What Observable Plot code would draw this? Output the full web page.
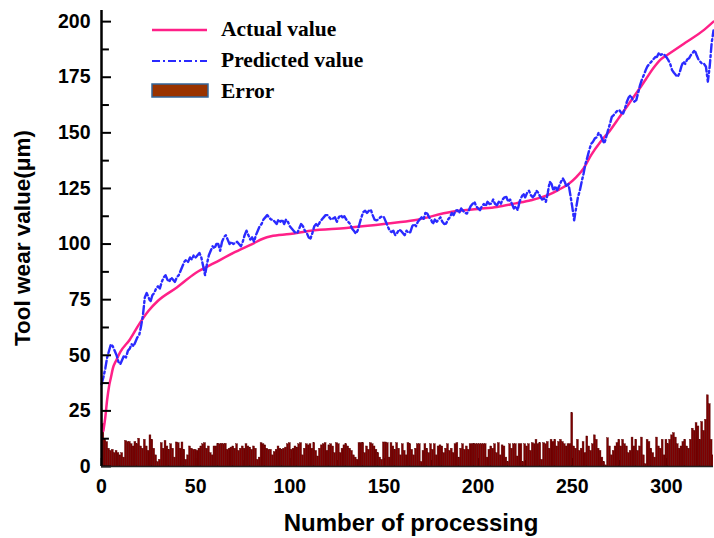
<!DOCTYPE html>
<html><head><meta charset="utf-8">
<script src="https://cdn.jsdelivr.net/npm/d3@7"></script>
<script src="https://cdn.jsdelivr.net/npm/@observablehq/plot@0.6"></script>
<style>
body{margin:0;background:#fff;}
#chart{position:relative;width:714px;height:538px;overflow:hidden;}
#chart svg{position:absolute;left:0;top:0;}
</style></head><body><div id="chart"></div>
<script>
// Actual value (smooth curve knots)
const actualX = [1,2,3,4,5,6,8,10,15,20,25,30,40,50,60,70,80,86,90,100,111,130,152,166,186,200,210,220,228,237,243,248,252,256,260,265,270,275,280,285,289,293,297,301,310,320,325];
const actualY = [16,22,30,36,40,44,48,51.5,57,64,70,74.5,80.5,87,91.5,96,100,102.5,103.5,104.5,106,107.2,109.2,110.7,114.5,115.8,116.7,118.3,119.7,122,124.5,127,130,134,140,146,151,157,163,169,174,179,183,185.3,190.5,196.3,200];

// Predicted value, n = 0..325
const predicted = [
37,40,44,49,52,55,54,52,50,47,
46,48,50,49,52,53,55,54,56,58,
59,63,68,76,78,76,74,77,78,80,
81,80,83,85,86,84,83,85,84,83,
85,86,88,90,92,93,92,94,93,95,
94,95,96,94,90,86,91,95,97,99,
98,100,100,97,101,103,104,102,100,101,
100,100.5,101,100,99,101,104,106,104,102,
103,101,104,106,108,109,111,112,113,112,
111,111,110,109,111,110,111,109,111,110,
108,107,106,105,105,107,109,108,106,105,
103,102.5,105,108,109,108,110,111,112,113,
113,112,111,111.5,112,110,112,113,112,112.5,
111,110,109,107,106,104.7,106,109,112,114.4,
115,114,115,115.5,113,111,110.7,111,112,112.5,
112,110,108,106,105.4,106,104,105,106.5,106,
105,104,106,105,105.4,108,109,108,110,111,
112,111,114,113.7,112,111,109,111,110,111,
112,110,109,109.2,111,112,114,113,115,115.2,
114,116,115,114,113.7,115,117,118,119,117,
116,115.2,117,118,117,119,118,118.2,120,118,
117.5,119,118,120,121,121.2,119,120,118,116,
117,115.2,119,121,122.7,121,123,124,122,121,
122,124,123,121.2,120,120.5,119,123,128,127,
124,126,124.2,126,128,129.5,128,125.7,127,122,
116.7,110.7,116,121,124,128,131.7,136,139,142.2,
145,146,147.5,148,150,149,147,145.2,148,151.2,
154,157.2,158,159,160,160.2,159,158.7,161,164,
166,166.9,165,164,164.7,168,171.5,174,176,178.2,
180,181,182,183,184,184.2,186,185,185.5,185,
184,182.7,181,178.2,177,176,175.2,177,180,182,
181,183,183.5,185,186,187.2,185,183,182,181,
181,179.7,173,180,190.2,196
];

// Error, n = 0..325
const errors = [
26,19,12,11,8,7,7.5,6,7,6,
5,6,4,11.5,11,11,10,9,11,10,
12.5,9,8,12,9,7,14,12,8,5,
2,3,10.5,8,11.5,9,7.5,10,8,4,
10.8,10.5,8,10.8,7.5,3,5,9,8,7.5,
7.5,7,8,9,10,10.5,8,9,6,5,
9,9,10,10,10.2,10,10.2,7.5,8,8.5,
9,8,10,7,8,9,8,10,9,8.5,
7.5,9,8,3,4,10.5,10,9.5,8,7.5,
7.5,5,6.5,7.5,9,8,7.5,8,8.5,10,
10.5,7.5,8,9,8.5,10,10.5,5,8,10,
9.5,10,8,10.5,7,4.5,8,9.5,10,10.5,
7,9.5,10,9,6,10.5,10,6,8,9.5,
10,9,8,7,5,4,3,10.5,10.5,10.5,
6,9,7.5,10.5,10,9,7.5,6,4,3,
10.8,10.8,10.5,4,10.5,9,7.5,10.5,8,5,
10,7,5,10.5,10,7.5,5,8,10,10,
2,7,10,8,6,10,7.5,10,5,9,
9.5,9,6,8,10,7,8,6,10,10.5,
4,8,10,7.5,9,7.5,10,10,10,10,
10,10,10,10,10,4,7.5,9,8,10,
6,10.5,5,9.5,9,4,2,10,8,10,
10,4.5,10,10,2,10,9,10,7,10.5,
10,12,10,10.5,3,10.5,10,11,8,12,
11,12,9,11,12,11,10,9,10,10,
24,9,8,12,7,8,11,6,13.5,9,
7,10,14,12,8,7,4,2,0.5,12.7,
9,5,7,9,10.5,12,9,12,10,9,
6,7,13,9,12,7,9,13,5,1,
12,11,8,6,4,13,9,8,12,5,
12,10,12,14,15,13,10,8,9,11,
12,9,8,12,17,16,19.5,18,12,20,
16,21,32,28,12,5
];

const xTicks = [0,50,100,150,200,250,300];
const xMinor = [25,75,125,175,225,275];
const yTicks = [0,25,50,75,100,125,150,175,200];
const yMinor = [12.5,37.5,62.5,87.5,112.5,137.5,162.5,187.5];

const actual = actualX.map((n,i)=>({n, v: actualY[i]}));
const pred = predicted.map((v,n)=>({n, v}));
const err = errors.map((e,n)=>({n, e}));

const fontAxis = "'Liberation Sans', Arial, sans-serif";
const plot = Plot.plot({
  width: 714, height: 538,
  marginLeft: 101, marginRight: 1, marginTop: 10, marginBottom: 72,
  x: {domain: [0, 325]},
  y: {domain: [0, 205]},
  style: {fontFamily: fontAxis, fontSize: "19px", fontWeight: "bold", color: "#000", background: "#fff"},
  marks: [
    Plot.ruleX(xTicks, {x: d=>d, y1: 0, y2: 3.6, stroke: "#000", strokeWidth: 1.5}),
    Plot.ruleX(xMinor, {x: d=>d, y1: 0, y2: 2.7, stroke: "#000", strokeWidth: 1.5}),
    Plot.rectY(err, {x1: d=>d.n-0.5, x2: d=>d.n+0.5, y1: 0, y2: "e", fill: "#7d0000", stroke: "#560000", strokeWidth: 0.4, clip: true}),
    Plot.line(actual, {x: "n", y: "v", stroke: "#ff2088", strokeWidth: 2.5, curve: "monotone-x"}),
    Plot.line(pred, {x: "n", y: "v", stroke: "#2a2aff", strokeWidth: 2.4, strokeDasharray: "8,3,2,3"}),
    Plot.ruleY(yTicks, {y: d=>d, x1: 0, x2: 5.3, stroke: "#000", strokeWidth: 2}),
    Plot.ruleY(yMinor, {y: d=>d, x1: 0, x2: 4.2, stroke: "#000", strokeWidth: 2}),
    Plot.ruleX([0], {stroke: "#000", strokeWidth: 2.5}),
    Plot.ruleY([0], {stroke: "#222", strokeWidth: 1.5}),
    Plot.axisY({ticks: yTicks, tickSize: 0, tickPadding: 11, label: null, fontSize: 19.5, fontWeight: "bold"}),
    Plot.axisX({ticks: xTicks, tickSize: 0, tickPadding: 13, label: null, fontSize: 19.5, fontWeight: "bold"})
  ]
});
document.getElementById("chart").appendChild(plot);

// overlay: axis titles and legend
const ov = d3.select("#chart").append("svg").attr("width", 714).attr("height", 538);
ov.append("text").attr("transform", "translate(30,238) rotate(-90)")
  .attr("text-anchor", "middle").attr("font-family", fontAxis).attr("font-weight", "bold")
  .attr("font-size", 22.5).text("Tool wear value(μm)");
ov.append("text").attr("x", 411).attr("y", 531)
  .attr("text-anchor", "middle").attr("font-family", fontAxis).attr("font-weight", "bold")
  .attr("font-size", 24).text("Number of processing");
const serif = "'Liberation Serif', 'Times New Roman', serif";
const lg = ov.append("g").attr("font-family", serif).attr("font-weight", "bold").attr("font-size", 21.5);
lg.append("line").attr("x1", 152).attr("x2", 207).attr("y1", 30).attr("y2", 30).attr("stroke", "#ff2088").attr("stroke-width", 2.5);
lg.append("text").attr("x", 221).attr("y", 36).text("Actual value");
lg.append("line").attr("x1", 152).attr("x2", 207).attr("y1", 61).attr("y2", 61).attr("stroke", "#2a2aff").attr("stroke-width", 2).attr("stroke-dasharray", "8,3,2,3");
lg.append("text").attr("x", 221).attr("y", 67).text("Predicted value");
lg.append("rect").attr("x", 152).attr("y", 84).attr("width", 56).attr("height", 13).attr("fill", "#993300").attr("stroke", "#336699").attr("stroke-width", 1.5);
lg.append("text").attr("x", 221).attr("y", 98).text("Error");
</script></body></html>
